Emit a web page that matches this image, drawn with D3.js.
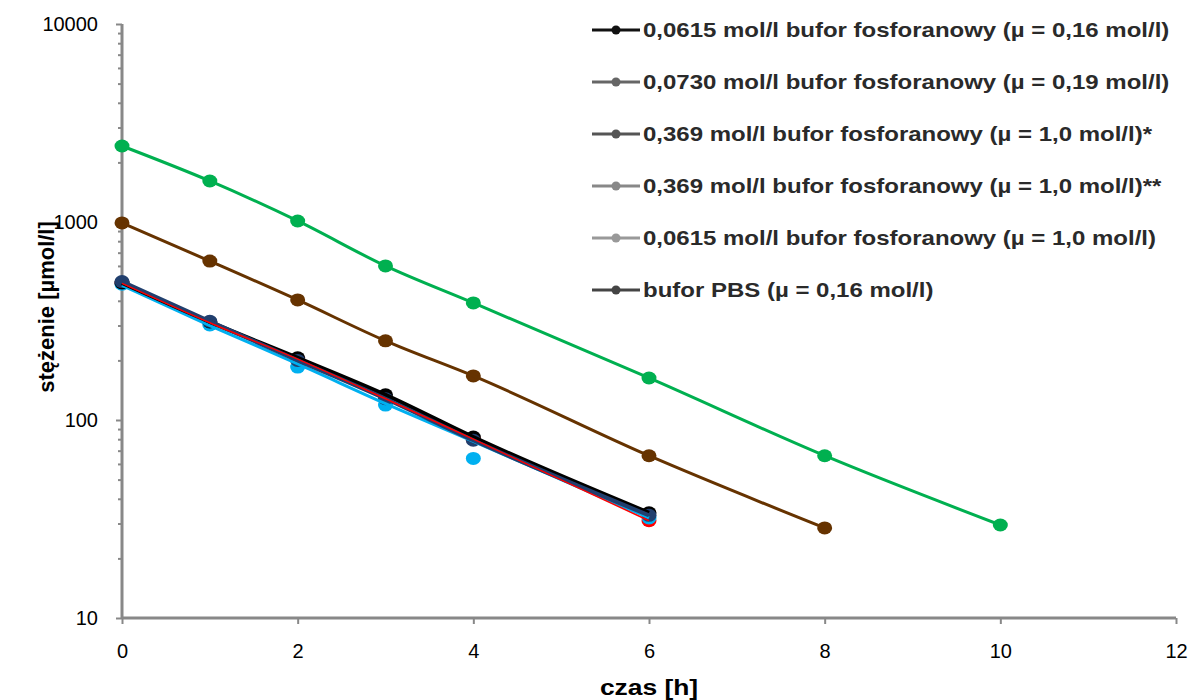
<!DOCTYPE html>
<html>
<head>
<meta charset="utf-8">
<script src="https://cdn.jsdelivr.net/npm/d3@7.9.0/dist/d3.min.js"></script>
<style>
  body { margin: 0; background: #fff; }
  text { font-family: "Liberation Sans", Arial, sans-serif; }
</style>
</head>
<body>
<svg id="chart" width="1190" height="700"></svg>
<script>
// time points [h]
const tShort = [0, 1, 2, 3, 4, 6];
const tBrown = [0, 1, 2, 3, 4, 6, 8];
const tGreen = [0, 1, 2, 3, 4, 6, 8, 10];

// concentrations [umol/l]
const blackVals = [492, 313, 206, 134, 82, 34];
const redVals = [490, 310, 203, 128, 80, 31];
const navyVals = [500, 315, 200, 128, 79, 33];
const lightBlueVals = [485, 302, 185, 119, 64, 32];
const lightBlueLine = [478, 300, 192, 121, 78, 32];
const brownVals = [989, 635, 404, 251, 167, 66, 28.5];
const greenVals = [2420, 1611, 1012, 600, 390, 163, 66, 29.5];

const legendLabels = [
    "0,0615 mol/l bufor fosforanowy (\u00b5 = 0,16 mol/l)",
    "0,0730 mol/l bufor fosforanowy (\u00b5 = 0,19 mol/l)",
    "0,369 mol/l bufor fosforanowy (\u00b5 = 1,0 mol/l)*",
    "0,369 mol/l bufor fosforanowy (\u00b5 = 1,0 mol/l)**",
    "0,0615 mol/l bufor fosforanowy (\u00b5 = 1,0 mol/l)",
    "bufor PBS (\u00b5 = 0,16 mol/l)"
];
const legendGrays = ["#111", "#666", "#555", "#888", "#999", "#444"];

const xTicks = [0, 2, 4, 6, 8, 10, 12];
const yTicks = [10, 100, 1000, 10000];

// marker order then line order (top-most last)
const red = { t: tShort, v: redVals, line: redVals, color: "#FF0000", w: 1.5 };
const lightBlue = { t: tShort, v: lightBlueVals, line: lightBlueLine, color: "#00B0F0", w: 3 };
const black = { t: tShort, v: blackVals, line: blackVals, color: "#000000", w: 4 };
const navy = { t: tShort, v: navyVals, line: navyVals, color: "#213F6E", w: 4 };
const brown = { t: tBrown, v: brownVals, line: brownVals, color: "#663300", w: 3 };
const green = { t: tGreen, v: greenVals, line: greenVals, color: "#00B050", w: 3 };
const markerOrder = [red, lightBlue, black, navy, brown, green];
const lineOrder = [lightBlue, black, navy, red, brown, green];

const margin = { top: 24, right: 14, bottom: 82, left: 122 };
const width = 1190 - margin.left - margin.right;
const height = 700 - margin.top - margin.bottom;

const svg = d3.select("#chart");
const g = svg.append("g")
    .attr("transform", `translate(${margin.left}, ${margin.top})`);

const x = d3.scaleLinear().domain([0, 12]).range([0, width]);
const y = d3.scaleLog().domain([10, 10000]).range([height, 0]);

// minor log ticks on y
const minor = [];
[10, 100, 1000].forEach(d => { for (let k = 2; k <= 9; k++) minor.push(d * k); });
g.append("g")
    .call(d3.axisLeft(y).tickValues(minor).tickSize(4).tickFormat(""))
    .call(s => s.select(".domain").remove())
    .call(s => s.selectAll("line").attr("stroke", "#888").attr("stroke-width", 2));

const yAxis = g.append("g")
    .call(d3.axisLeft(y).tickValues(yTicks).tickSize(6).tickPadding(18).tickFormat(d3.format("d")));
const xAxis = g.append("g")
    .attr("transform", `translate(0, ${height})`)
    .call(d3.axisBottom(x).tickValues(xTicks).tickSize(6).tickPadding(20));

[xAxis, yAxis].forEach(a => {
    a.select(".domain").attr("stroke", "#888").attr("stroke-width", 3);
    a.selectAll("line").attr("stroke", "#888").attr("stroke-width", 2);
    a.selectAll("text").attr("fill", "#000").style("font-size", "20px");
});
yAxis.select(".domain").attr("d", `M0,0V${height}`);
xAxis.select(".domain").attr("d", `M0,0H${width}`);

// data
const line = d3.line()
    .x(d => x(d[0]))
    .y(d => y(d[1]))
    .curve(d3.curveMonotoneX);

markerOrder.forEach(s => {
    g.append("g").selectAll("ellipse")
        .data(s.t.map((t, i) => [t, s.v[i]]))
        .enter()
        .append("ellipse")
        .attr("cx", d => x(d[0]))
        .attr("cy", d => y(d[1]))
        .attr("rx", 7.5)
        .attr("ry", 6.5)
        .attr("fill", s.color);
});
lineOrder.forEach(s => {
    g.append("path")
        .datum(s.t.map((t, i) => [t, s.line[i]]))
        .attr("fill", "none")
        .attr("stroke", s.color)
        .attr("stroke-width", s.w)
        .attr("d", line);
});

// axis titles
svg.append("text")
    .attr("transform", `translate(${margin.left + width / 2}, 695) scale(1.2, 1)`)
    .attr("text-anchor", "middle")
    .style("font-size", "22px")
    .style("font-weight", "bold")
    .text("czas [h]");

svg.append("text")
    .attr("transform", `translate(54, 307) rotate(-90)`)
    .attr("text-anchor", "middle")
    .style("font-size", "22px")
    .style("font-weight", "bold")
    .text("stężenie [µmol/l]");

// legend (grayscale as in the source)
const legend = svg.append("g").attr("transform", "translate(592, 30)");
legendLabels.forEach((label, i) => {
    const row = legend.append("g").attr("transform", `translate(0, ${i * 52})`);
    row.append("line")
        .attr("x1", 0).attr("x2", 48)
        .attr("stroke", legendGrays[i]).attr("stroke-width", 3);
    row.append("circle")
        .attr("cx", 24).attr("r", 4.5)
        .attr("fill", legendGrays[i]);
    row.append("text")
        .attr("transform", "translate(51, 0) scale(1.2, 1)")
        .attr("dy", "0.35em")
        .attr("fill", "#2a2a2a")
        .style("font-size", "20px")
        .style("font-weight", "bold")
        .text(label);
});
</script>
</body>
</html>
